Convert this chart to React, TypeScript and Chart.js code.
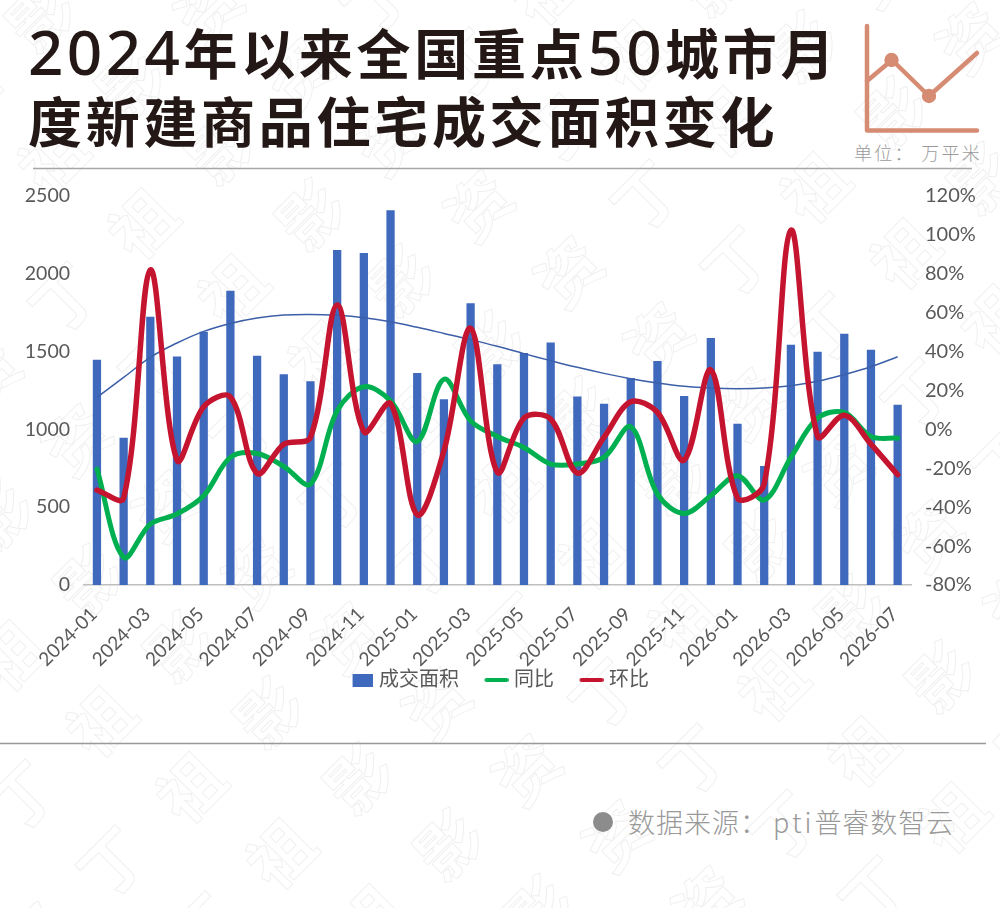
import React, { useEffect, useRef } from "react";
import { Chart, registerables } from "chart.js";

Chart.register(...registerables);

const months = [
  "2024-01","2024-02","2024-03","2024-04","2024-05","2024-06","2024-07","2024-08","2024-09","2024-10","2024-11","2024-12",
  "2025-01","2025-02","2025-03","2025-04","2025-05","2025-06","2025-07","2025-08","2025-09","2025-10","2025-11","2025-12",
  "2026-01","2026-02","2026-03","2026-04","2026-05","2026-06","2026-07",
];
const area = [1448,947,1724,1469,1628,1891,1474,1354,1309,2153,2133,2408,1362,1193,1810,1418,1491,1559,1212,1165,1330,1439,1214,1587,1037,765,1544,1499,1615,1512,1159];
const yoy = [-20.4,-65.8,-48.7,-43.5,-34.1,-14.4,-12.4,-19,-28.1,9.6,21.9,14.7,-6.2,25.8,4.4,-3.6,-9.3,-17.8,-17.8,-14.4,1.3,-33.3,-43.2,-34.1,-23.8,-36.3,-14.4,5.8,8.7,-3.6,-4.5];
const mom = [-31.2,-35.3,82,-15.8,11.6,16.7,-22.6,-7.6,-4.1,64,-1.2,13.3,-43.9,-11,52,-22,5.8,5.3,-22.5,-4,14.2,8.7,-15.8,30.6,-35.3,-28,102.4,-3.6,7.3,-7.6,-23.3];
const trend = [1206,1334,1463,1555,1630,1681,1716,1735,1739,1733,1718,1692,1656,1617,1577,1534,1487,1442,1399,1360,1326,1298,1277,1266,1262,1266,1281,1309,1352,1403,1467];

const watermarkChars = ["丁", "祖", "影", "资"];

const FONT = "Lato, 'Noto Sans CJK SC', sans-serif";
const CJK = "'Noto Sans CJK SC', sans-serif";
const BLUE = "#3f69bd";
const GREEN = "#00b050";
const RED = "#c5142f";
const TICK = "#595959";

function legendSwatch(w: number, h: number, color: string, radius: number, leftPad: number) {
  const c = document.createElement("canvas");
  c.width = w + leftPad;
  c.height = h;
  const ctx = c.getContext("2d")!;
  ctx.fillStyle = color;
  ctx.beginPath();
  ctx.roundRect(leftPad, 0, w, h, radius);
  ctx.fill();
  return c;
}

function Watermark() {
  const items: React.ReactNode[] = [];
  for (let j = -8; j < 12; j++) {
    for (let i = -4; i < 16; i++) {
      const x = 110 + i * 78 + j * 90;
      const y = 860 - i * 75 + j * 66;
      if (x < -60 || x > 1060 || y < -60 || y > 970) continue;
      items.push(
        <span
          key={i + "_" + j}
          style={{
            position: "absolute",
            left: x - 32,
            top: y - 46,
            fontFamily: CJK,
            fontWeight: 700,
            fontSize: 64,
            lineHeight: "92px",
            color: "transparent",
            WebkitTextStroke: "1px #f0f0f0",
            transform: "rotate(-45deg)",
          }}
        >
          {watermarkChars[((i % 4) + 4) % 4]}
        </span>
      );
    }
  }
  return <div style={{ position: "absolute", inset: 0, overflow: "hidden" }}>{items}</div>;
}

const extendLabelArea = {
  id: "extendLabelArea",
  afterLayout(chart: any) {
    const x = chart.scales.x;
    x.bottom = chart.height;
    x.height = x.bottom - x.top;
  },
};

export default function App() {
  const ref = useRef<HTMLCanvasElement>(null);

  useEffect(() => {
    document.body.style.margin = "0";
    const swatches = [
      legendSwatch(20, 13, BLUE, 0, 5),
      legendSwatch(24, 4, GREEN, 2, 3),
      legendSwatch(24, 4, RED, 2, 3),
    ];
    const chart = new Chart(ref.current!, {
      type: "bar",
      plugins: [extendLabelArea],
      data: {
        labels: months,
        datasets: [
          { type: "bar", label: "成交面积", data: area, backgroundColor: BLUE, yAxisID: "y", barPercentage: 0.31, categoryPercentage: 1, order: 4 },
          { type: "line", label: "同比", data: yoy, borderColor: GREEN, backgroundColor: GREEN, borderWidth: 5, tension: 0.34, pointRadius: 0, borderCapStyle: "round", borderJoinStyle: "round", yAxisID: "y1", order: 2 },
          { type: "line", label: "环比", data: mom, borderColor: RED, backgroundColor: RED, borderWidth: 5.5, tension: 0.34, pointRadius: 0, borderCapStyle: "round", borderJoinStyle: "round", yAxisID: "y1", order: 1 },
          { type: "line", label: "趋势", data: trend, borderColor: "#3c5fa8", borderWidth: 1.5, tension: 0.4, pointRadius: 0, yAxisID: "y", order: 3 },
        ],
      } as any,
      options: {
        animation: false,
        responsive: false,
        layout: { autoPadding: false, padding: { top: 25, left: 0, right: 0, bottom: 0 } },
        plugins: {
          tooltip: { enabled: false },
          legend: {
            position: "bottom",
            labels: {
              usePointStyle: true,
              boxWidth: 18,
              boxHeight: 13,
              padding: 27,
              color: TICK,
              font: { family: FONT, size: 20 },
              filter: (item: any) => item.text !== "趋势",
              sort: (a: any, b: any) => a.datasetIndex - b.datasetIndex,
              generateLabels: (c: any) => {
                const items = Chart.defaults.plugins.legend.labels.generateLabels(c);
                items.forEach((it: any) => {
                  if (swatches[it.datasetIndex]) it.pointStyle = swatches[it.datasetIndex];
                });
                return items;
              },
            },
          },
        },
        scales: {
          x: {
            grid: { display: false, drawTicks: false },
            border: { display: true, color: "#bfbfbf", width: 1.5 },
            ticks: {
              autoSkip: false,
              minRotation: 45,
              maxRotation: 45,
              padding: 18,
              labelOffset: -3,
              color: TICK,
              font: { family: FONT, size: 19 },
              callback(this: any, value: any, index: number) {
                return index % 2 === 0 ? this.getLabelForValue(value) : "";
              },
            },
            afterFit: (s: any) => { s.height = 58; },
          },
          y: {
            position: "left",
            min: 0,
            max: 2500,
            grid: { display: false, drawTicks: false },
            border: { display: false },
            ticks: { stepSize: 500, padding: 13.6, color: TICK, font: { family: FONT, size: 19.5 }, callback: (v: any) => String(v) },
            afterFit: (s: any) => { s.width = 83.6; },
          },
          y1: {
            position: "right",
            min: -80,
            max: 120,
            grid: { display: false, drawTicks: false },
            border: { display: false },
            ticks: {
              stepSize: 20,
              padding: 14,
              color: TICK,
              font: { family: FONT, size: 20 },
              callback: (v: any) => v + "%",
            },
            afterFit: (s: any) => { s.width = 89; },
          },
        },
      },
    } as any);
    return () => chart.destroy();
  }, []);

  const titleStyle: React.CSSProperties = {
    position: "absolute",
    left: 28,
    fontFamily: CJK,
    fontWeight: 700,
    fontSize: 54,
    letterSpacing: 3.7,
    lineHeight: "60px",
    color: "#231815",
    whiteSpace: "nowrap",
  };
  const digitStyle: React.CSSProperties = { fontSize: 62, fontWeight: 500, letterSpacing: 3.4, fontFamily: "'Noto Sans', sans-serif" };

  return (
    <div style={{ position: "absolute", left: 0, top: 0, width: 1000, height: 908, overflow: "hidden", background: "#fff" }}>
      <Watermark />
      <div style={{ ...titleStyle, top: 21 }}>
        <span style={digitStyle}>2024</span>年以来全国重点<span style={digitStyle}>50</span>城市月
      </div>
      <div style={{ ...titleStyle, top: 90 }}>度新建商品住宅成交面积变化</div>
      <svg width={1000} height={908} style={{ position: "absolute", left: 0, top: 0 }}>
        <line x1={33} y1={168.5} x2={972} y2={168.5} stroke="#a6a6a6" strokeWidth={1.5} />
        <line x1={0} y1={743.5} x2={986} y2={743.5} stroke="#999" strokeWidth={1.5} />
        <g stroke="#d68c73" strokeWidth={4.5} strokeLinecap="round" strokeLinejoin="round" fill="none">
          <polyline points="867,26 867,130.5 977,130.5" />
          <polyline points="867,81 892,60 929,96 977,53" />
        </g>
        <circle cx={891.5} cy={60} r={7.2} fill="#d68c73" />
        <circle cx={929} cy={96} r={7.2} fill="#d68c73" />
        <circle cx={603} cy={822} r={10} fill="#8c8c8c" />
      </svg>
      <div style={{ position: "absolute", left: 854, top: 139, fontFamily: CJK, fontSize: 18, letterSpacing: 2.3, lineHeight: "26px", color: "#9a9a9a", whiteSpace: "pre", fontWeight: 300 }}>单位： 万平米</div>
      <div style={{ position: "absolute", left: 628, top: 803, fontFamily: CJK, fontSize: 27, letterSpacing: 1, lineHeight: "38px", color: "#999", whiteSpace: "pre", fontWeight: 300 }}>
        数据来源：<span style={{ letterSpacing: 3, marginLeft: 5 }}>pti</span>普睿数智云
      </div>
      <canvas ref={ref} width={1000} height={530} style={{ position: "absolute", left: 0, top: 170, width: 1000, height: 530 }} />
    </div>
  );
}
